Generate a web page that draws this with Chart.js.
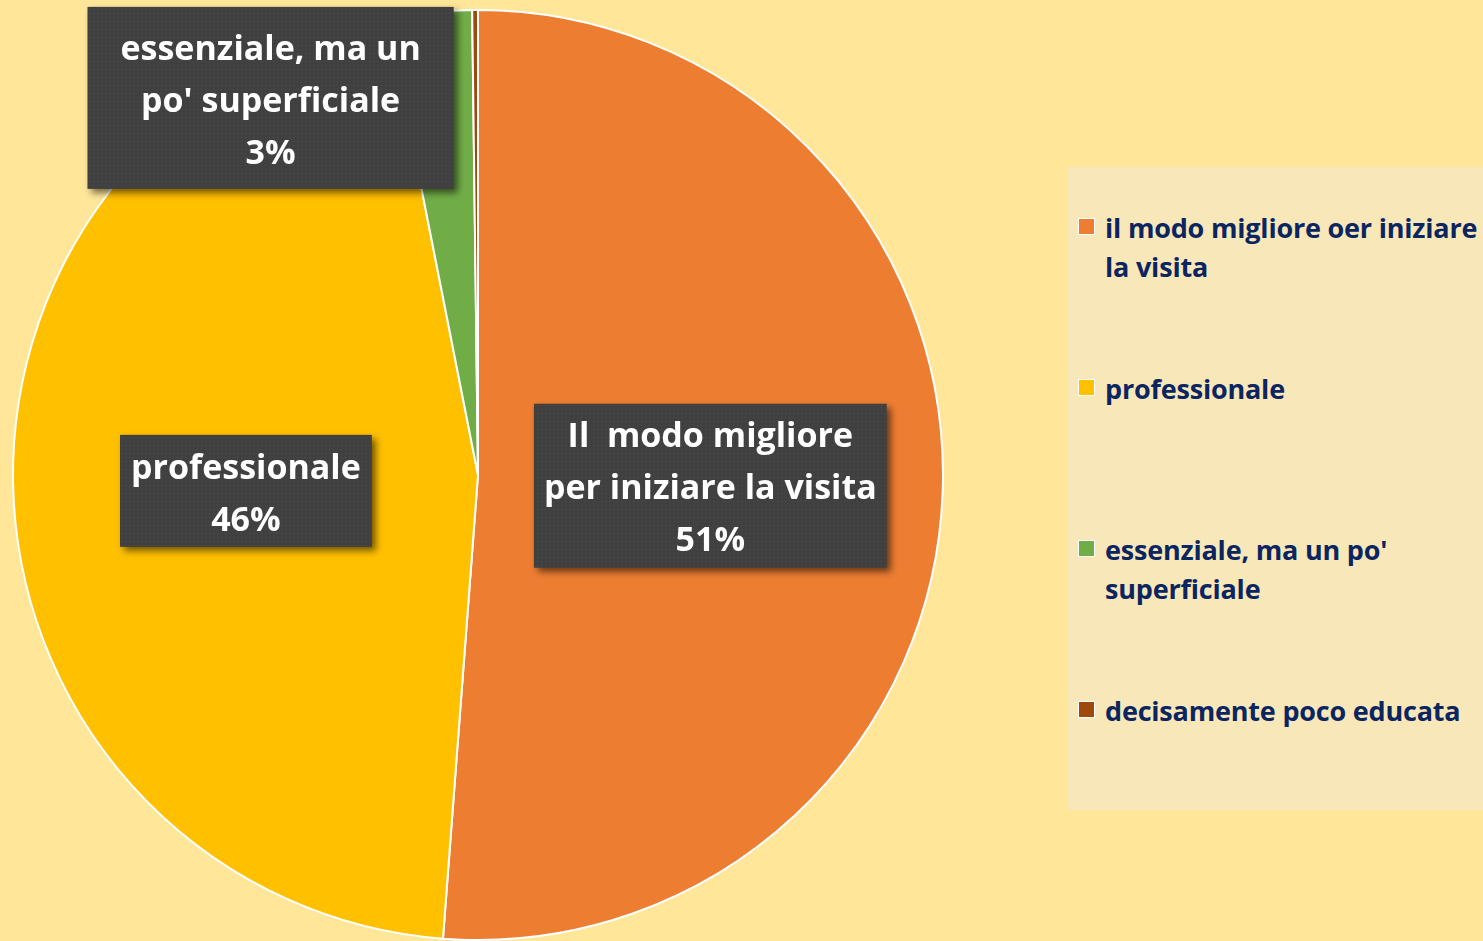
<!DOCTYPE html>
<html>
<head>
<meta charset="utf-8">
<script src="https://cdn.jsdelivr.net/npm/chart.js@4.4.1/dist/chart.umd.min.js"></script>
<style>
  html, body { margin: 0; padding: 0; background: #FFE699; }
  #wrap { position: relative; width: 1483px; height: 941px; overflow: hidden; }
  #legend {
    position: absolute; left: 1068px; top: 167px; width: 415px; height: 643px;
    background: #F8E8B9; font-family: "Open Sans", sans-serif; font-weight: bold;
    font-size: 27px; line-height: 39px; color: #0B2561; letter-spacing: -0.2px;
  }
  .item { position: absolute; left: 0; width: 415px; }
  .mark {
    position: absolute; left: 10px; top: 10px; width: 15px; height: 15px;
    border: 1.5px solid #fff;
  }
  .txt { position: absolute; left: 37px; width: 378px; }
</style>
</head>
<body>
<div id="wrap">
  <canvas id="pie" width="1483" height="941"></canvas>
  <div id="legend"></div>
</div>
<script>
const categories = [
  'il modo migliore oer iniziare la visita',
  'professionale',
  "essenziale, ma un po' superficiale",
  'decisamente poco educata'
];
const values = [51.2, 45.7, 2.9, 0.2];
const colors = ['#ED7D31', '#FFC000', '#70AD47', '#9E480E'];
const dataLabelLines = [
  ['Il  modo migliore', 'per iniziare la visita'],
  ['professionale'],
  ['essenziale, ma un', "po' superficiale"],
  ['decisamente poco educata']
];

// dotted dark fill used by the data label boxes
const makePattern = (ctx) => {
  const c = document.createElement('canvas');
  c.width = 4; c.height = 4;
  const p = c.getContext('2d');
  p.fillStyle = '#404040';
  p.fillRect(0, 0, 4, 4);
  p.fillStyle = '#4d4d4d';
  p.fillRect(1, 1, 1, 1);
  return ctx.createPattern(c, 'repeat');
};

const boxLabels = {
  id: 'boxLabels',
  afterDatasetsDraw(chart, args, opts) {
    const ctx = chart.ctx;
    const meta = chart.getDatasetMeta(0);
    const data = chart.data.datasets[0].data;
    const total = data.reduce((a, b) => a + b, 0);
    const fill = makePattern(ctx);
    meta.data.forEach((arc, i) => {
      const pct = Math.round(data[i] / total * 100);
      if (pct === 0) return;
      const lines = [...dataLabelLines[i], pct + '%'];
      ctx.save();
      ctx.font = opts.font;
      const w = Math.max(...lines.map(l => ctx.measureText(l).width));
      const pad = opts.pads[i];
      const bw = w + pad[0] * 2;
      const bh = lines.length * opts.lineHeight + pad[1] * 2;
      let x, y;
      const off = opts.offsets[i];
      if (off) {
        x = arc.x + off[0] * arc.outerRadius;
        y = arc.y + off[1] * arc.outerRadius;
      } else {
        const p = arc.tooltipPosition();
        x = p.x; y = p.y + 2;
      }
      ctx.shadowColor = 'rgba(0,0,0,0.55)';
      ctx.shadowBlur = 7;
      ctx.shadowOffsetX = 4;
      ctx.shadowOffsetY = 4;
      ctx.fillStyle = fill;
      ctx.fillRect(x - bw / 2, y - bh / 2, bw, bh);
      ctx.shadowColor = 'transparent';
      ctx.fillStyle = '#ffffff';
      ctx.textAlign = 'center';
      ctx.textBaseline = 'middle';
      const y0 = y - (lines.length - 1) * opts.lineHeight / 2;
      lines.forEach((l, k) => ctx.fillText(l, x, y0 + k * opts.lineHeight + 4));
      ctx.restore();
    });
  }
};

const chart = new Chart(document.getElementById('pie'), {
  type: 'pie',
  data: {
    labels: categories,
    datasets: [{
      data: values,
      backgroundColor: colors,
      borderColor: '#ffffff',
      borderWidth: 2
    }]
  },
  options: {
    responsive: false,
    animation: false,
    layout: { padding: { left: 10, top: 9, right: 537, bottom: -4 } },
    plugins: {
      legend: { display: false },
      tooltip: { enabled: false },
      boxLabels: {
        font: 'bold 34px "Open Sans"',
        lineHeight: 52,
        pads: [[10, 4], [11, 4], [33, 13], [9, 4]],
        offsets: [null, null, [-0.446, -0.811], null]
      }
    }
  },
  plugins: [boxLabels]
});

// legend built from the chart's own labels and colours
const legend = document.getElementById('legend');
chart.data.labels.forEach((name, i) => {
  const item = document.createElement('div');
  item.className = 'item';
  item.style.top = (41 + i * 161) + 'px';
  item.innerHTML = '<div class="mark" style="background:' + colors[i] + '"></div><div class="txt">' + name + '</div>';
  legend.appendChild(item);
});
</script>
</body>
</html>
